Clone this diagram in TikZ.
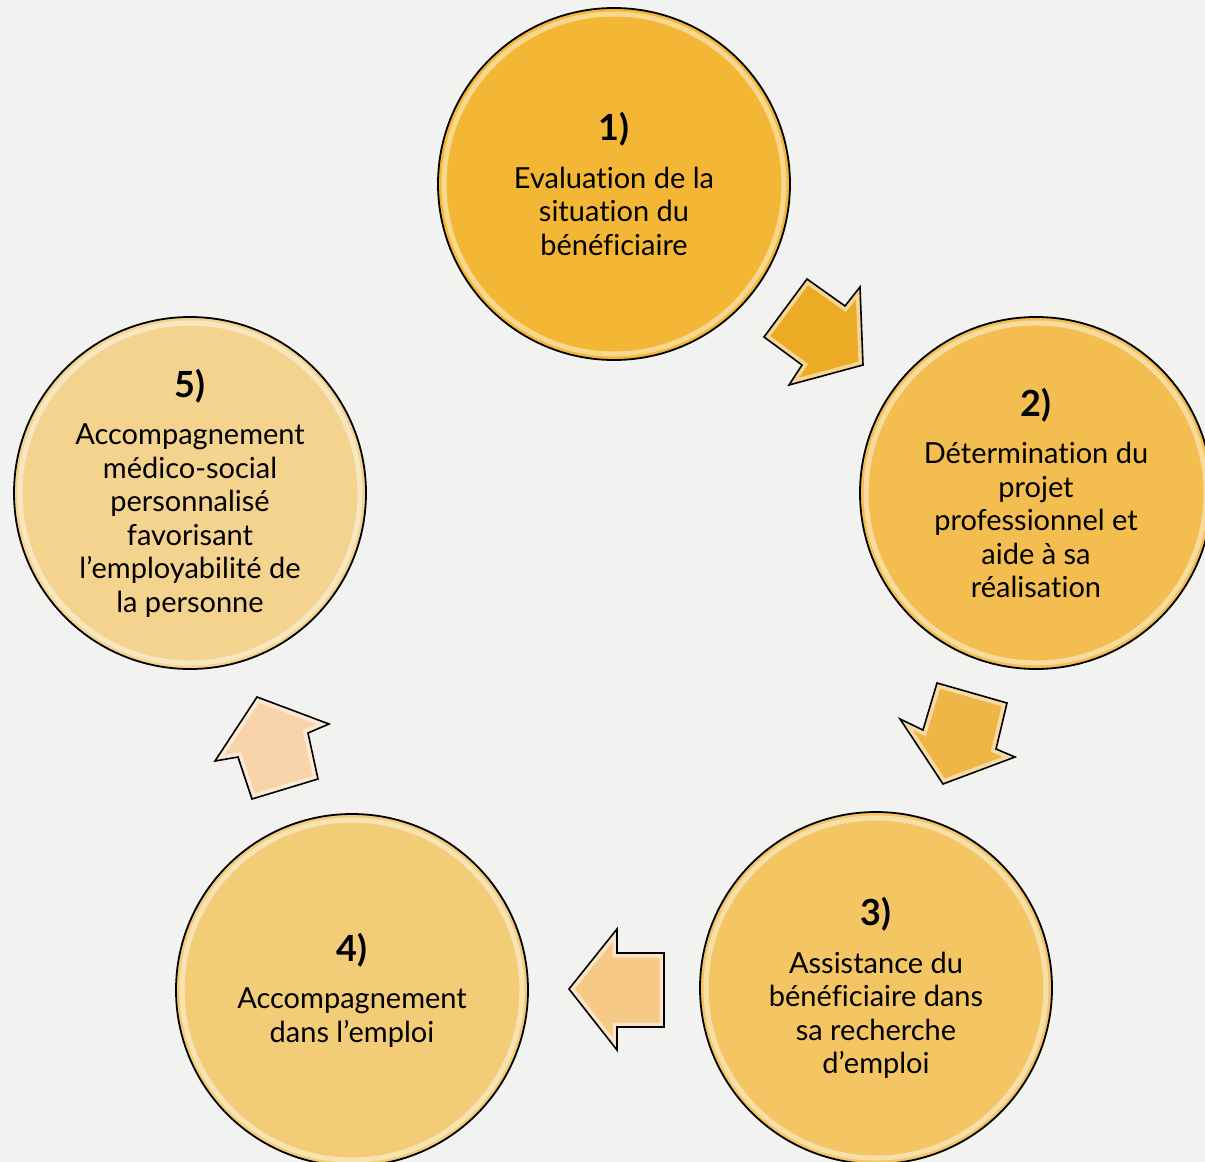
\documentclass[tikz,border=0pt]{standalone}
\usepackage{fontspec}
\setmainfont{Lato}[Ligatures=NoCommon]
\definecolor{bgcol}{HTML}{F2F2F0}
\definecolor{cA}{HTML}{F3B735}
\definecolor{cB}{HTML}{F3BE4F}
\definecolor{cC}{HTML}{F3C563}
\definecolor{cD}{HTML}{F3CC78}
\definecolor{cE}{HTML}{F3D38D}
\definecolor{aA}{HTML}{EBAB24}
\definecolor{aB}{HTML}{F0B547}
\definecolor{aC}{HTML}{F7C987}
\definecolor{aD}{HTML}{F9D4AA}
\tikzset{
  stage/.style={circle, draw=black, line width=1.8pt, minimum size=352pt, inner sep=0pt,
    align=center, font=\fontsize{29}{33.5}\selectfont},
  glow/.style={white, opacity=0.45, line width=5pt},
  blockarrow/.style={draw=black, line width=1.6pt, line join=miter},
  bevel/.style={white, opacity=0.5, line width=9pt, line join=miter},
}
\newcommand\ttl[1]{{\fontsize{36}{38}\selectfont\bfseries #1}\\[14pt]}
\newcommand\barrow[2]{%
  \begin{scope}\clip #2; \fill[#1] #2; \draw[bevel] #2;\end{scope}
  \draw[blockarrow] #2;}
\begin{document}
\begin{tikzpicture}[x=1pt,y=-1pt]
\useasboundingbox (0,0) rectangle (1205,1162);
\clip (0,0) rectangle (1205,1162);
\fill[bgcol] (0,0) rectangle (1205,1162);

\node[stage, fill=cA] (s1) at (614,184) {\ttl{1)}Evaluation de la\\situation du\\bénéficiaire};
\node[stage, fill=cB] (s2) at (1036,493) {\ttl{2)}Détermination du\\projet\\professionnel et\\aide à sa\\réalisation};
\node[stage, fill=cC] (s3) at (876,988) {\ttl{3)}Assistance du\\bénéficiaire dans\\sa recherche\\d’emploi};
\node[stage, fill=cD] (s4) at (352,990) {\ttl{4)}Accompagnement\\dans l’emploi};
\node[stage, fill=cE] (s5) at (190,493) {\ttl{5)}Accompagnement\\médico-social\\personnalisé\\favorisant\\l’employabilité de\\la personne};

\foreach \n in {s1,s2,s3,s4,s5}{\draw[glow] (\n.center) circle (170);}

\barrow{aA}{(807,279) -- (845,306) -- (860,287) -- (863,365) -- (789,385) -- (802,365) -- (764,337) -- cycle}
\barrow{aB}{(937,683) -- (1007,703) -- (996,749) -- (1015,757) -- (943,784) -- (900,719) -- (923,730) -- cycle}
\barrow{aC}{(617,929) -- (617,953) -- (664,953) -- (664,1027) -- (617,1027) -- (617,1050) -- (569,989) -- cycle}
\barrow{aD}{(257,697) -- (329,724) -- (308,733) -- (318,779) -- (252,799) -- (238,757) -- (215,761) -- cycle}
\end{tikzpicture}
\end{document}
